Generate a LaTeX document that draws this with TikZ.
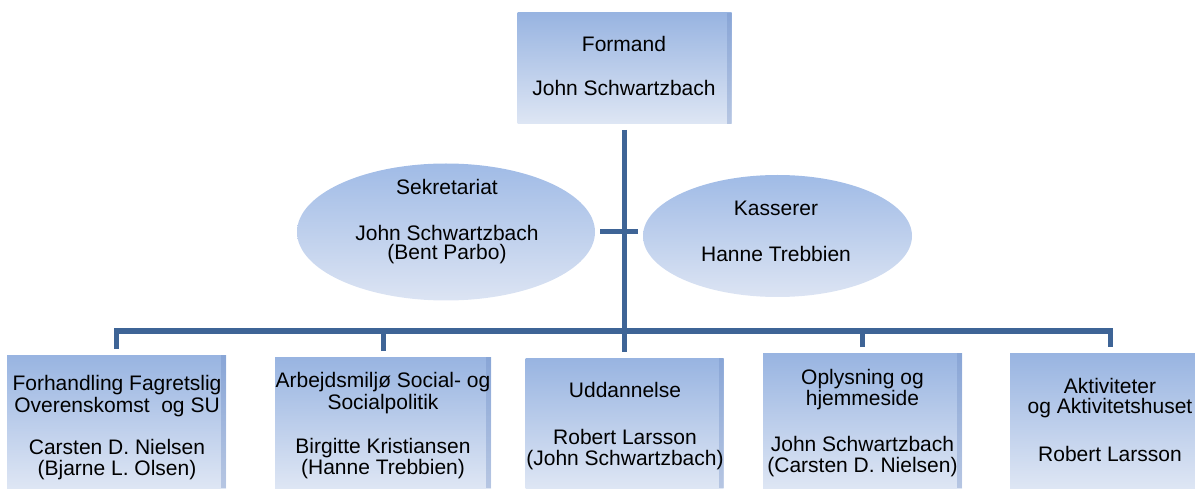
\documentclass[tikz,border=0pt]{standalone}
\usepackage{fontspec}
\setmainfont{Liberation Sans}
\usetikzlibrary{shapes.geometric}
\definecolor{lineblue}{RGB}{62,100,150}
\definecolor{boxtop}{RGB}{152,180,225}
\definecolor{boxbot}{RGB}{222,230,244}
\definecolor{elltop}{RGB}{160,187,230}
\definecolor{ellbot}{RGB}{220,228,243}
\definecolor{edgeshade}{RGB}{110,140,195}
\tikzset{
  orgbox/.style={rectangle, inner sep=0pt, outer sep=6pt, top color=boxtop, bottom color=boxbot,
    path picture={\fill[edgeshade, opacity=0.35] ([xshift=-5pt]path picture bounding box.north east) rectangle (path picture bounding box.south east);}},
  orgell/.style={ellipse, inner sep=0pt, outer sep=5pt, top color=elltop, bottom color=ellbot},
  conn/.style={draw=lineblue, line width=5pt},
  txt/.style={align=center, inner sep=0pt, font=\fontsize{21}{21}\selectfont}
}
\begin{document}
\begin{tikzpicture}[x=1pt,y=-1pt]
\useasboundingbox (0,0) rectangle (1195,489);
% shapes
\node[orgbox, minimum width=214pt, minimum height=111pt] (top) at (624.5,68.5) {};
\node[orgell, minimum width=298pt, minimum height=137pt] (sek) at (446,232) {};
\node[orgell, minimum width=269pt, minimum height=122pt] (kas) at (777.5,236) {};
\node[orgbox, minimum width=219pt, minimum height=133pt] (b1) at (116.5,421.5) {};
\node[orgbox, minimum width=216pt, minimum height=131pt] (b2) at (383,422.5) {};
\node[orgbox, minimum width=198pt, minimum height=130pt] (b3) at (624.5,423) {};
\node[orgbox, minimum width=199pt, minimum height=135pt] (b4) at (862.5,420.5) {};
\node[orgbox, minimum width=200pt, minimum height=135pt] (b5) at (1110,420.5) {};
% connectors
\coordinate (hub) at (624.5,331);
\draw[conn] (top.south) -- (b3.north);
\draw[conn] (sek.east) -- (sek.east -| kas.west);
\draw[conn] (b1.north) |- (hub) -| (b5.north);
\draw[conn] (b2.north) -- (b2.north |- hub);
\draw[conn] (b4.north) -- (b4.north |- hub);
% texts
\node[txt] (ttop) at (624,69) {\strut Formand\\[22pt]\strut John Schwartzbach};
\node[txt] (tsek) at (447,222.5) {\strut Sekretariat\\[23pt]John Schwartzbach\\[-2pt]\strut (Bent Parbo)};
\node[txt] (tkas) at (776,234.5) {\strut Kasserer\\[23pt]\strut Hanne Trebbien};
\node[txt] (t1) at (117,428.3) {\strut Forhandling Fagretslig\\Overenskomst\ \ og SU\\[21pt]Carsten D. Nielsen\\\strut (Bjarne L. Olsen)};
\node[txt] (t2) at (383,426.3) {\strut Arbejdsmiljø Social- og\\Socialpolitik\\[23pt]Birgitte Kristiansen\\\strut (Hanne Trebbien)};
\node[txt] (t3) at (625,426.8) {\strut Uddannelse\\[24pt]Robert Larsson\\\strut (John Schwartzbach)};
\node[txt] (t4) at (862.5,423.8) {\strut Oplysning og\\[-1pt]hjemmeside\\[25pt]John Schwartzbach\\\strut (Carsten D. Nielsen)};
\node[txt] (t5) at (1110,422.8) {\strut Aktiviteter\\[-2pt]og Aktivitetshuset\\[27pt]\strut Robert Larsson};
\end{tikzpicture}
\end{document}
